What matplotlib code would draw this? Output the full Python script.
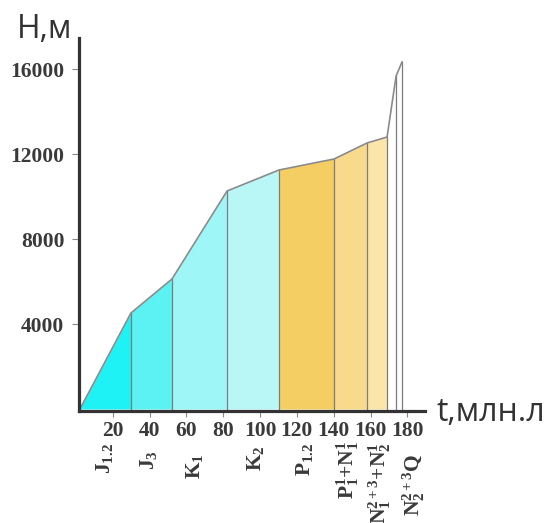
import numpy as np
import matplotlib
matplotlib.use("Agg")
import matplotlib.pyplot as plt
import matplotlib.transforms as mtransforms

# profile: age (million years) vs. thickness H (m)
prof_t = [2.2, 7.7, 29.9, 52.2, 82.1, 110.3, 140.2, 158.1, 169.0, 173.9, 177.1]
prof_h = [0, 894, 4518, 6118, 10259, 11247, 11765, 12518, 12800, 15670, 16329]

# stage boundaries and fill colours
bounds = [2.2, 29.9, 52.2, 82.1, 110.3, 140.2, 158.1, 169.0, 173.9, 177.1]
colors = ["#1ff2f5", "#5cf1f3", "#9ef6f7", "#b9f7f6", "#f4ce62",
          "#f9da8c", "#fbe5a8", "#ffffff", "#ffffff"]

# stratigraphic labels under the axis
strat_labels = [r"$\mathrm{J}_{1.2}$", r"$\mathrm{J}_3$", r"$\mathrm{K}_1$",
                r"$\mathrm{K}_2$", r"$\mathrm{P}_{1.2}$",
                r"$\mathrm{P}_1^1$+$\mathrm{N}_1^1$",
                r"$\mathrm{N}_1^{2+3}$+$\mathrm{N}_2^1$",
                r"$\mathrm{N}_2^{2+3}\mathrm{Q}$"]
strat_t = [15.8, 39.2, 64.2, 97.3, 124.4, 147.8, 165.2, 183.7]
strat_top = [443, 450, 453, 445, 443, 441, 442, 453]  # px from top

xticks = [20, 40, 60, 80, 100, 120, 140, 160, 180]
yticks = [4000, 8000, 12000, 16000]

plt.rcParams["mathtext.fontset"] = "custom"
plt.rcParams["mathtext.rm"] = "Liberation Serif:bold"
plt.rcParams["mathtext.it"] = "Liberation Serif:bold"
plt.rcParams["mathtext.bf"] = "Liberation Serif:bold"

W, H = 547, 523
fig = plt.figure(figsize=(W / 100, H / 100), dpi=100)
ax = fig.add_axes([79 / W, 1 - 411 / H, (425 - 79) / W, (411 - 38) / H])

grey = "#7c7c7c"
for i in range(len(bounds) - 1):
    t = np.linspace(bounds[i], bounds[i + 1], 50)
    h = np.interp(t, prof_t, prof_h)
    ax.fill_between(t, 0, h, color=colors[i], lw=0)

# boundary lines
for b in bounds[1:]:
    ax.plot([b, b], [0, np.interp(b, prof_t, prof_h)], color=grey, lw=0.9)
ax.plot(prof_t, prof_h, color="#8a8a8a", lw=1.2)

ax.set_xlim(1.68, 189.6)
ax.set_ylim(-94, 17459)

for s in ["top", "right"]:
    ax.spines[s].set_visible(False)
for s in ["left", "bottom"]:
    ax.spines[s].set_color("#333333")
    ax.spines[s].set_linewidth(2.3)

ax.set_xticks(xticks)
ax.set_yticks(yticks)
tick_font = dict(family="Liberation Serif", weight="bold", color="#3a3a3a")
ax.set_xticklabels([str(v) for v in xticks], fontsize=15.5, **tick_font)
ax.set_yticklabels([str(v) for v in yticks], fontsize=15.5, **tick_font)
ax.tick_params(axis="y", length=5, width=0.8, color="#888888", pad=5.5)
ax.tick_params(axis="x", length=4.3, width=0.8, color="#888888", pad=3)

trans = mtransforms.blended_transform_factory(ax.transData, fig.transFigure)
for lab, t, top in zip(strat_labels, strat_t, strat_top):
    ax.text(t, 1 - top / H, lab, rotation=90, ha="center", va="top",
            fontsize=15.5, transform=trans, clip_on=False, **tick_font)

lab_font = dict(family="Open Sans", fontsize=23, color="#333333")
fig.text(17 / W, 1 - 38 / H, "H,м", ha="left", va="baseline", **lab_font)
fig.text(436 / W, 1 - 421 / H, "t,млн.л", ha="left", va="baseline", **lab_font)

fig.savefig("out.png", dpi=100)
